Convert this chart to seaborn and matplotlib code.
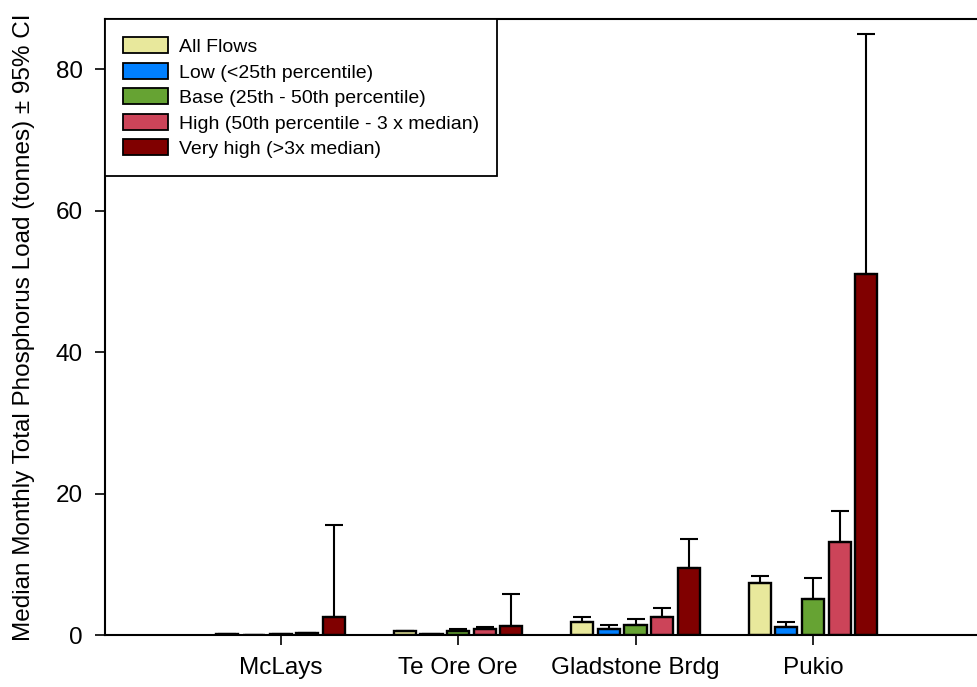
import numpy as np
import pandas as pd
import matplotlib
matplotlib.use("Agg")
import matplotlib.pyplot as plt
import seaborn as sns
from matplotlib.patches import Patch

sites = ["McLays", "Te Ore Ore", "Gladstone Brdg", "Pukio"]
flows = ["All Flows", "Low (<25th percentile)", "Base (25th - 50th percentile)",
         "High (50th percentile - 3 x median)", "Very high (>3x median)"]
colors = ["#E8E89C", "#0080FF", "#66A333", "#CC4459", "#800000"]

# median values per flow class for each site
all_flows = [0.10, 0.55, 1.9, 7.4]
low = [0.05, 0.10, 0.85, 1.2]
base = [0.10, 0.50, 1.4, 5.1]
high = [0.25, 0.85, 2.5, 13.1]
very_high = [2.5, 1.3, 9.5, 51.0]

# upper 95% CI
all_flows_hi = [0.12, 0.60, 2.5, 8.4]
low_hi = [0.06, 0.12, 1.35, 1.8]
base_hi = [0.15, 0.80, 2.26, 8.0]
high_hi = [0.30, 1.10, 3.8, 17.5]
very_high_hi = [15.5, 5.75, 13.6, 85.0]

vals = [all_flows, low, base, high, very_high]
his = [all_flows_hi, low_hi, base_hi, high_hi, very_high_hi]

rows = []
for f, v, h in zip(flows, vals, his):
    for s, vv, hh in zip(sites, v, h):
        rows.append({"site": s, "flow": f, "value": vv, "upper": hh})
df = pd.DataFrame(rows)

sns.set_theme(style="white")
plt.rcParams["font.family"] = ["Liberation Sans", "DejaVu Sans"]
for k in ["text.color", "axes.labelcolor", "xtick.color", "ytick.color"]:
    plt.rcParams[k] = "black"

fig = plt.figure(figsize=(9.78, 6.87), dpi=100)
ax = fig.add_axes([105 / 978, 1 - 635 / 687, 1 - 105 / 978, (635 - 19) / 687])

sns.barplot(data=df, x="site", y="value", hue="flow", order=sites, hue_order=flows,
            palette=colors, width=0.75, gap=0.17, edgecolor="black", linewidth=1.7,
            errorbar=None, ax=ax, legend=False, saturation=1)

# upper-only error bars, positioned at the bar centres drawn by seaborn
for container, f in zip(ax.containers, flows):
    sub = df[df["flow"] == f].set_index("site").loc[sites]
    xs = [p.get_x() + p.get_width() / 2 for p in container.patches]
    ys = sub["value"].values
    up = sub["upper"].values - ys
    ax.errorbar(xs, ys, yerr=[np.zeros_like(up), up], fmt="none", ecolor="black",
                elinewidth=1.5, capsize=6.5, capthick=1.5, zorder=1)

ax.set_ylim(0, 87.1)
ax.set_xlim(-0.99, 3.93)
ax.set_yticks([0, 20, 40, 60, 80])
ax.set_xlabel("")
ax.set_ylabel("Median Monthly Total Phosphorus Load (tonnes) \u00b1 95% CI", fontsize=17.5, labelpad=15)
ax.tick_params(axis="both", labelsize=17.5, direction="out", length=7, width=1.2, color="black",
               left=True, bottom=True)
ax.tick_params(axis="x", pad=9)
ax.tick_params(axis="y", pad=9)
for side in ["left", "top", "bottom"]:
    ax.spines[side].set_color("black")
    ax.spines[side].set_linewidth(1.5)
ax.spines["right"].set_visible(False)

handles = [Patch(facecolor=c, edgecolor="black", linewidth=1.3) for c in colors]
leg = ax.legend(handles, flows, loc="upper left", bbox_to_anchor=(0, 1), borderaxespad=0,
                fontsize=14, frameon=True, fancybox=False, framealpha=1,
                handlelength=2.3, handleheight=0.88,
                labelspacing=0.35, borderpad=0.95, handletextpad=0.55)
leg.get_frame().set_edgecolor("black")
leg.get_frame().set_linewidth(1.3)

fig.savefig("out.png", dpi=100)
